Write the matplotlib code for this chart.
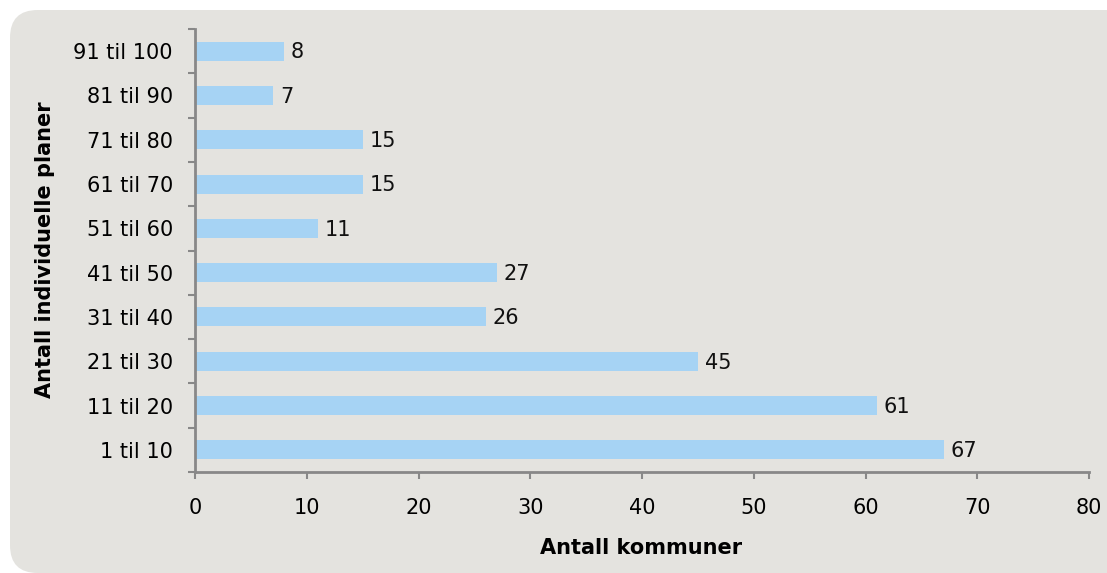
import matplotlib
matplotlib.use("Agg")
import matplotlib.pyplot as plt
from matplotlib.patches import FancyBboxPatch

categories = ["1 til 10", "11 til 20", "21 til 30", "31 til 40", "41 til 50",
              "51 til 60", "61 til 70", "71 til 80", "81 til 90", "91 til 100"]
values = [67, 61, 45, 26, 27, 11, 15, 15, 7, 8]
xticks = [0, 10, 20, 30, 40, 50, 60, 70, 80]

plt.rcParams['font.family'] = ['DejaVu Sans']
W, H = 1107, 573
fig = plt.figure(figsize=(W / 100, H / 100), dpi=100)
fig.patch.set_facecolor('white')

bg = FancyBboxPatch((10 / W, 0 / H), 1.2, (H - 10) / H,
                    boxstyle="round,pad=0,rounding_size=0.025",
                    transform=fig.transFigure, facecolor='#e4e3df',
                    edgecolor='none', zorder=-5, mutation_aspect=W / H)
fig.patches.append(bg)

ax = fig.add_axes([195 / W, 1 - 472 / H, (1089 - 195) / W, (472 - 29) / H])
ax.set_facecolor('none')
ax.set_zorder(2)

FS = 15
y = list(range(len(categories)))
ax.barh(y, values, height=0.43, color='#a6d3f4', zorder=2)
for yi, v in zip(y, values):
    ax.text(v + 0.6, yi - 0.03, str(v), va='center', ha='left', fontsize=FS, color='#111111')

ax.set_xlim(0, 80)
ax.set_ylim(-0.5, len(categories) - 0.5)
ax.set_xticks(xticks)
ax.set_xticklabels([str(t) for t in xticks], fontsize=FS)
ax.set_yticks(y)
ax.set_yticklabels(categories, fontsize=FS)
ax.set_yticks([i - 0.5 for i in range(len(categories) + 1)], minor=True)
ax.tick_params(axis='y', which='major', length=0, pad=16)
ax.tick_params(axis='y', which='minor', length=5, width=1.5, color='#888888', direction='out')
ax.tick_params(axis='x', which='major', length=5, width=1.5, color='#888888', direction='out', pad=14)

for s in ['top', 'right']:
    ax.spines[s].set_visible(False)
for s in ['left', 'bottom']:
    ax.spines[s].set_color('#888888')
    ax.spines[s].set_linewidth(2)

fig.text(641 / W, 1 - 548 / H, "Antall kommuner", ha='center', va='center',
         fontsize=15, fontweight='bold')
fig.text(45 / W, 1 - 250 / H, "Antall individuelle planer", ha='center', va='center',
         fontsize=15, fontweight='bold', rotation=90)

fig.savefig("out.png", dpi=100, facecolor=fig.get_facecolor())
